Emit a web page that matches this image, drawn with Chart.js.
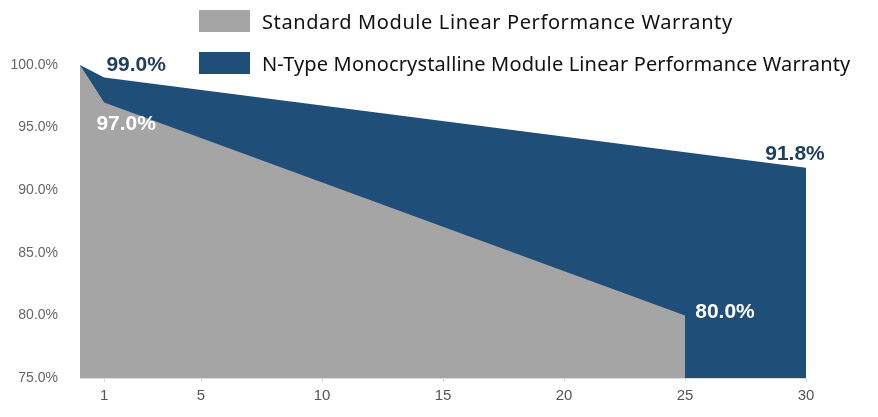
<!DOCTYPE html>
<html><head>
<meta charset="UTF-8">
<title>Module Linear Performance Warranty</title>
<script src="https://cdn.jsdelivr.net/npm/chart.js"></script>
<style>
  body { margin: 0; background: #fff; }
  .wrap { position: relative; width: 878px; height: 417px; }
  .legend { position: absolute; left: 199px; font-family: 'Noto Sans', sans-serif; font-size: 20px; color: #111; }
  .legend div { display: flex; align-items: center; height: 22px; margin-bottom: 20px; }
  .legend span.box { width: 51px; height: 22px; margin-right: 12px; }
</style>
</head>
<body>
<div class="wrap">
  <canvas id="c" width="878" height="417"></canvas>
  <div class="legend" style="top:10px">
    <div><span class="box" style="background:#a5a5a5"></span><span id="l0" style="letter-spacing:0.6px"></span></div>
    <div><span class="box" style="background:#1f4e79"></span><span id="l1" style="letter-spacing:0.15px"></span></div>
  </div>
</div>
<script>
const seriesNames = ['Standard Module Linear Performance Warranty', 'N-Type Monocrystalline Module Linear Performance Warranty'];
const standardYears = [0, 1, 25, 25];
const standardValues = [100, 97, 80, 75];
const ntypeYears = [0, 1, 30, 30];
const ntypeValues = [100, 99, 91.8, 75];
const xTicks = [1, 5, 10, 15, 20, 25, 30];
// value labels: [series index, point index, text]
const callouts = [[1, 1, '99.0%'], [0, 1, '97.0%'], [1, 2, '91.8%'], [0, 2, '80.0%']];

document.getElementById('l0').textContent = seriesNames[0];
document.getElementById('l1').textContent = seriesNames[1];

const toPts = (xs, ys) => xs.map((x, i) => ({ x: x, y: ys[i] }));

const calloutColor = ['#ffffff', '#1f3d5c'];
const offsets = { '99.0%': [32, -12], '97.0%': [22, 22], '91.8%': [-11, -13], '80.0%': [40, -3] };

const labelPlugin = {
  id: 'callouts',
  afterDatasetsDraw(chart) {
    const ctx = chart.ctx;
    ctx.save();
    ctx.font = 'bold 21px "Liberation Sans", Arial, sans-serif';
    ctx.textAlign = 'center';
    ctx.textBaseline = 'middle';
    callouts.forEach(([s, p, txt]) => {
      const pt = chart.getDatasetMeta(s).data[p];
      const o = offsets[txt];
      ctx.fillStyle = calloutColor[s];
      ctx.fillText(txt, pt.x + o[0], pt.y + o[1]);
    });
    ctx.restore();
  }
};

new Chart(document.getElementById('c'), {
  type: 'line',
  data: {
    datasets: [
      { label: seriesNames[0], data: toPts(standardYears, standardValues), fill: 'start',
        backgroundColor: '#a5a5a5', borderWidth: 0, pointRadius: 0, tension: 0 },
      { label: seriesNames[1], data: toPts(ntypeYears, ntypeValues), fill: 'start',
        backgroundColor: '#1f4e79', borderWidth: 0, pointRadius: 0, tension: 0 }
    ]
  },
  options: {
    responsive: false,
    animation: false,
    layout: { padding: { top: 65, right: 72, left: 0, bottom: 0 } },
    plugins: { legend: { display: false }, tooltip: { enabled: false } },
    scales: {
      x: {
        type: 'linear', min: 0, max: 30,
        afterBuildTicks: axis => { axis.ticks = xTicks.map(v => ({ value: v })); },
        afterFit: axis => { axis.height = 39; },
        grid: { drawOnChartArea: false, tickLength: 4, color: '#d8d8d8' },
        border: { color: '#dcdcdc' },
        ticks: { color: '#555', padding: 5, font: { family: 'Liberation Sans', size: 15 } }
      },
      y: {
        min: 75, max: 100,
        afterFit: axis => { axis.width = 80; },
        grid: { display: false },
        border: { display: false },
        ticks: { stepSize: 5, padding: 14, color: '#666',
          font: { family: 'Liberation Sans', size: 14 },
          callback: v => v.toFixed(1) + '%' }
      }
    }
  },
  plugins: [labelPlugin]
});
</script>
</body></html>
